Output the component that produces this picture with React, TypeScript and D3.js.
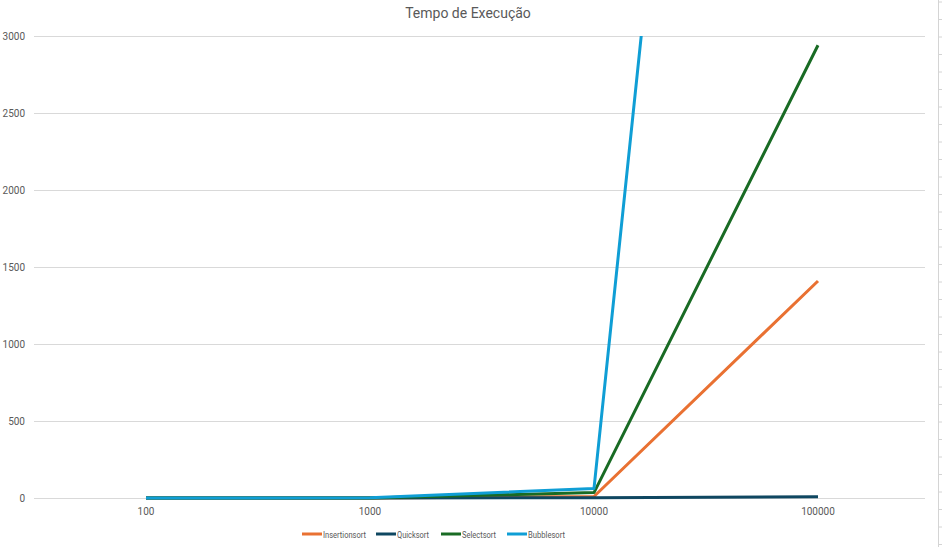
import { useEffect, useRef } from "react";
import * as d3 from "d3";

const sizes = ["100", "1000", "10000", "100000"];
const insertion = [0, 0.5, 10, 1409];
const quick = [0, 0.1, 2, 8];
const select = [0, 0.5, 35, 2940];
const bubble = [0, 1, 62, 14000];
const yTicks = [0, 500, 1000, 1500, 2000, 2500, 3000];

const series = [
  { name: "Insertionsort", values: insertion, color: "#E97132" },
  { name: "Quicksort", values: quick, color: "#0F4761" },
  { name: "Selectsort", values: select, color: "#196B24" },
  { name: "Bubblesort", values: bubble, color: "#0F9ED5" },
];

const W = 942;
const H = 547;
const font = "'Liberation Sans Narrow', Roboto, sans-serif";

export default function App() {
  const ref = useRef<SVGSVGElement>(null);

  useEffect(() => {
    document.body.style.margin = "0";
    if (!ref.current) return;
    const svg = d3.select(ref.current);
    svg.selectAll("*").remove();

    const x = d3.scalePoint<string>().domain(sizes).range([34, 930]).padding(0.5);
    const y = d3.scaleLinear().domain([0, 3000]).range([498, 36]);

    svg.append("rect").attr("width", W).attr("height", H).attr("fill", "#fff");

    // spreadsheet edge
    svg.append("line").attr("x1", 938.5).attr("x2", 938.5).attr("y1", 0).attr("y2", H)
      .attr("stroke", "#d4d4d4");
    d3.range(0, H, 17.5).forEach((v) => {
      svg.append("line").attr("x1", 938).attr("x2", 942).attr("y1", v + 2).attr("y2", v + 2)
        .attr("stroke", "#d4d4d4");
    });

    svg.append("text").attr("x", 468).attr("y", 18).attr("text-anchor", "middle")
      .attr("font-family", "Roboto, 'Open Sans', sans-serif").attr("font-size", 14)
      .attr("fill", "#595959").text("Tempo de Execução");

    const g = svg.append("g").attr("font-family", font);

    yTicks.forEach((t) => {
      g.append("line").attr("x1", 34).attr("x2", 925).attr("y1", Math.round(y(t)) + 0.5)
        .attr("y2", Math.round(y(t)) + 0.5).attr("stroke", "#d9d9d9");
      g.append("text").attr("x", 25).attr("y", y(t) + 3.5).attr("text-anchor", "end")
        .attr("font-size", 10).attr("fill", "#595959").text(t);
    });

    sizes.forEach((s) => {
      g.append("text").attr("x", x(s)!).attr("y", 515).attr("text-anchor", "middle")
        .attr("font-size", 10).attr("fill", "#595959").text(s);
    });

    svg.append("defs").append("clipPath").attr("id", "plot")
      .append("rect").attr("x", 30).attr("y", 36).attr("width", 900).attr("height", 470);

    const line = d3.line<number>().x((_, i) => x(sizes[i])!).y((d) => y(d));
    const plot = svg.append("g").attr("clip-path", "url(#plot)");
    series.forEach((s) => {
      plot.append("path").datum(s.values).attr("d", line).attr("fill", "none")
        .attr("stroke", s.color).attr("stroke-width", 3).attr("stroke-linejoin", "round");
    });

    // legend
    const lx = [302, 376, 441, 507];
    const lw = [43, 32, 34, 37];
    series.forEach((s, i) => {
      const lg = svg.append("g").attr("transform", `translate(${lx[i]},534)`);
      lg.append("line").attr("x1", 0).attr("x2", 20).attr("stroke", s.color).attr("stroke-width", 3);
      lg.append("text").attr("x", 21).attr("y", 3.5).attr("font-size", 9.5)
        .attr("textLength", lw[i]).attr("lengthAdjust", "spacingAndGlyphs")
        .attr("font-family", font).attr("fill", "#595959").text(s.name);
    });
  }, []);

  return <svg ref={ref} width={W} height={H} style={{ display: "block" }} />;
}
